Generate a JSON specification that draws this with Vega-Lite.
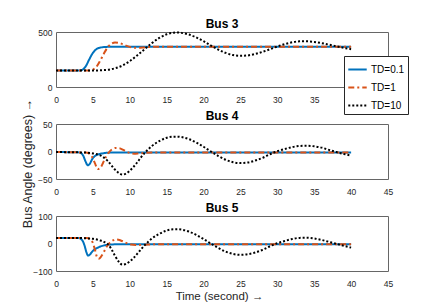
{
"$schema": "https://vega.github.io/schema/vega-lite/v6.json",
"padding": {"left": 20, "top": 17, "right": 5, "bottom": 2},
"bounds": "flush",
"spacing": 37,
"datasets": {
"bus3": [
{"s":"TD=0.1","t":0,"v":150},{"s":"TD=0.1","t":3.2,"v":150},{"s":"TD=0.1","t":3.6,"v":158},{"s":"TD=0.1","t":4,"v":185},{"s":"TD=0.1","t":4.5,"v":250},{"s":"TD=0.1","t":5,"v":310},{"s":"TD=0.1","t":5.5,"v":345},{"s":"TD=0.1","t":6,"v":358},{"s":"TD=0.1","t":6.5,"v":363},{"s":"TD=0.1","t":7,"v":365},{"s":"TD=0.1","t":20,"v":365},{"s":"TD=0.1","t":40,"v":365},
{"s":"TD=1","t":0,"v":150},{"s":"TD=1","t":4.6,"v":150},{"s":"TD=1","t":5,"v":158},{"s":"TD=1","t":5.5,"v":185},{"s":"TD=1","t":6,"v":240},{"s":"TD=1","t":6.5,"v":305},{"s":"TD=1","t":7,"v":360},{"s":"TD=1","t":7.5,"v":393},{"s":"TD=1","t":8,"v":405},{"s":"TD=1","t":8.5,"v":402},{"s":"TD=1","t":9,"v":390},{"s":"TD=1","t":9.5,"v":376},{"s":"TD=1","t":10,"v":365},{"s":"TD=1","t":10.5,"v":358},{"s":"TD=1","t":11,"v":356},{"s":"TD=1","t":12,"v":360},{"s":"TD=1","t":13,"v":365},{"s":"TD=1","t":20,"v":365},{"s":"TD=1","t":40,"v":365},
{"s":"TD=10","t":0,"v":150},{"s":"TD=10","t":5,"v":150},{"s":"TD=10","t":6,"v":152},{"s":"TD=10","t":7,"v":157},{"s":"TD=10","t":8,"v":170},{"s":"TD=10","t":9,"v":195},{"s":"TD=10","t":10,"v":235},{"s":"TD=10","t":11,"v":287},{"s":"TD=10","t":12,"v":343},{"s":"TD=10","t":13,"v":399},{"s":"TD=10","t":14,"v":446},{"s":"TD=10","t":15,"v":479},{"s":"TD=10","t":16,"v":494},{"s":"TD=10","t":16.5,"v":496},{"s":"TD=10","t":17,"v":492},{"s":"TD=10","t":18,"v":477},{"s":"TD=10","t":19,"v":451},{"s":"TD=10","t":20,"v":416},{"s":"TD=10","t":21,"v":377},{"s":"TD=10","t":22,"v":340},{"s":"TD=10","t":23,"v":310},{"s":"TD=10","t":24,"v":290},{"s":"TD=10","t":25,"v":283},{"s":"TD=10","t":26,"v":287},{"s":"TD=10","t":27,"v":300},{"s":"TD=10","t":28,"v":320},{"s":"TD=10","t":29,"v":343},{"s":"TD=10","t":30,"v":368},{"s":"TD=10","t":31,"v":390},{"s":"TD=10","t":32,"v":406},{"s":"TD=10","t":33,"v":415},{"s":"TD=10","t":34,"v":415},{"s":"TD=10","t":35,"v":410},{"s":"TD=10","t":36,"v":399},{"s":"TD=10","t":37,"v":385},{"s":"TD=10","t":38,"v":370},{"s":"TD=10","t":39,"v":356},{"s":"TD=10","t":40,"v":344}
],
"bus4": [
{"s":"TD=0.1","t":0,"v":-1},{"s":"TD=0.1","t":3,"v":-1.5},{"s":"TD=0.1","t":3.4,"v":-3},{"s":"TD=0.1","t":3.7,"v":-8},{"s":"TD=0.1","t":4,"v":-18},{"s":"TD=0.1","t":4.3,"v":-25},{"s":"TD=0.1","t":4.6,"v":-22},{"s":"TD=0.1","t":4.9,"v":-14},{"s":"TD=0.1","t":5.3,"v":-8},{"s":"TD=0.1","t":5.8,"v":-5},{"s":"TD=0.1","t":6.5,"v":-3},{"s":"TD=0.1","t":7.5,"v":-2},{"s":"TD=0.1","t":20,"v":-2},{"s":"TD=0.1","t":40,"v":-2},
{"s":"TD=1","t":0,"v":-1},{"s":"TD=1","t":4,"v":-2},{"s":"TD=1","t":4.5,"v":-4},{"s":"TD=1","t":4.9,"v":-10},{"s":"TD=1","t":5.3,"v":-22},{"s":"TD=1","t":5.65,"v":-32},{"s":"TD=1","t":6,"v":-30},{"s":"TD=1","t":6.4,"v":-20},{"s":"TD=1","t":6.8,"v":-9},{"s":"TD=1","t":7.2,"v":-1},{"s":"TD=1","t":7.6,"v":4},{"s":"TD=1","t":8.1,"v":6.5},{"s":"TD=1","t":8.6,"v":6},{"s":"TD=1","t":9.1,"v":3},{"s":"TD=1","t":9.6,"v":-0.5},{"s":"TD=1","t":10.1,"v":-3},{"s":"TD=1","t":10.6,"v":-4},{"s":"TD=1","t":11.2,"v":-3.5},{"s":"TD=1","t":12,"v":-2.5},{"s":"TD=1","t":13,"v":-2},{"s":"TD=1","t":20,"v":-2},{"s":"TD=1","t":40,"v":-2},
{"s":"TD=10","t":0,"v":-1},{"s":"TD=10","t":4,"v":-2},{"s":"TD=10","t":5,"v":-3.5},{"s":"TD=10","t":6,"v":-7},{"s":"TD=10","t":7,"v":-17},{"s":"TD=10","t":8,"v":-33},{"s":"TD=10","t":8.5,"v":-39},{"s":"TD=10","t":9,"v":-42},{"s":"TD=10","t":9.5,"v":-40},{"s":"TD=10","t":10,"v":-35},{"s":"TD=10","t":10.5,"v":-28},{"s":"TD=10","t":11,"v":-20},{"s":"TD=10","t":11.5,"v":-11},{"s":"TD=10","t":12,"v":-3},{"s":"TD=10","t":12.5,"v":4},{"s":"TD=10","t":13,"v":10},{"s":"TD=10","t":14,"v":19},{"s":"TD=10","t":15,"v":25},{"s":"TD=10","t":16,"v":27},{"s":"TD=10","t":16.5,"v":27},{"s":"TD=10","t":17,"v":26.2},{"s":"TD=10","t":18,"v":22.6},{"s":"TD=10","t":19,"v":16.5},{"s":"TD=10","t":20,"v":8.6},{"s":"TD=10","t":21,"v":0},{"s":"TD=10","t":22,"v":-8.2},{"s":"TD=10","t":23,"v":-15},{"s":"TD=10","t":24,"v":-19.5},{"s":"TD=10","t":25,"v":-21},{"s":"TD=10","t":26,"v":-20},{"s":"TD=10","t":27,"v":-16.5},{"s":"TD=10","t":28,"v":-11.5},{"s":"TD=10","t":29,"v":-5},{"s":"TD=10","t":30,"v":0.5},{"s":"TD=10","t":31,"v":4.5},{"s":"TD=10","t":32,"v":8},{"s":"TD=10","t":33,"v":10},{"s":"TD=10","t":34,"v":10.4},{"s":"TD=10","t":35,"v":9.4},{"s":"TD=10","t":36,"v":7},{"s":"TD=10","t":37,"v":3},{"s":"TD=10","t":38,"v":-1},{"s":"TD=10","t":39,"v":-4.5},{"s":"TD=10","t":40,"v":-7.5}
],
"bus5": [
{"s":"TD=0.1","t":0,"v":20},{"s":"TD=0.1","t":3,"v":20},{"s":"TD=0.1","t":3.3,"v":18},{"s":"TD=0.1","t":3.6,"v":10},{"s":"TD=0.1","t":3.9,"v":-10},{"s":"TD=0.1","t":4.1,"v":-30},{"s":"TD=0.1","t":4.35,"v":-44},{"s":"TD=0.1","t":4.6,"v":-40},{"s":"TD=0.1","t":4.9,"v":-30},{"s":"TD=0.1","t":5.2,"v":-22},{"s":"TD=0.1","t":5.6,"v":-16},{"s":"TD=0.1","t":6,"v":-11},{"s":"TD=0.1","t":6.5,"v":-7},{"s":"TD=0.1","t":7,"v":-5},{"s":"TD=0.1","t":8,"v":-3},{"s":"TD=0.1","t":9,"v":-2.5},{"s":"TD=0.1","t":20,"v":-2.5},{"s":"TD=0.1","t":40,"v":-2.5},
{"s":"TD=1","t":0,"v":20},{"s":"TD=1","t":4.2,"v":20},{"s":"TD=1","t":4.6,"v":16},{"s":"TD=1","t":5,"v":2},{"s":"TD=1","t":5.3,"v":-25},{"s":"TD=1","t":5.6,"v":-52},{"s":"TD=1","t":5.8,"v":-55},{"s":"TD=1","t":6.1,"v":-48},{"s":"TD=1","t":6.5,"v":-30},{"s":"TD=1","t":6.9,"v":-10},{"s":"TD=1","t":7.3,"v":3},{"s":"TD=1","t":7.8,"v":12},{"s":"TD=1","t":8.2,"v":15},{"s":"TD=1","t":8.7,"v":12},{"s":"TD=1","t":9.2,"v":6},{"s":"TD=1","t":9.7,"v":0},{"s":"TD=1","t":10.2,"v":-4},{"s":"TD=1","t":10.8,"v":-5.5},{"s":"TD=1","t":11.5,"v":-5},{"s":"TD=1","t":12.5,"v":-3.5},{"s":"TD=1","t":14,"v":-3},{"s":"TD=1","t":20,"v":-3},{"s":"TD=1","t":40,"v":-3},
{"s":"TD=10","t":0,"v":20},{"s":"TD=10","t":3,"v":20},{"s":"TD=10","t":4,"v":19},{"s":"TD=10","t":5,"v":17},{"s":"TD=10","t":6,"v":11},{"s":"TD=10","t":6.5,"v":6},{"s":"TD=10","t":7,"v":-2},{"s":"TD=10","t":7.5,"v":-20},{"s":"TD=10","t":8,"v":-45},{"s":"TD=10","t":8.5,"v":-66},{"s":"TD=10","t":9,"v":-77},{"s":"TD=10","t":9.5,"v":-74},{"s":"TD=10","t":10,"v":-65},{"s":"TD=10","t":10.5,"v":-53},{"s":"TD=10","t":11,"v":-38},{"s":"TD=10","t":11.5,"v":-22},{"s":"TD=10","t":12,"v":-7},{"s":"TD=10","t":12.5,"v":6},{"s":"TD=10","t":13,"v":18},{"s":"TD=10","t":14,"v":35},{"s":"TD=10","t":15,"v":47},{"s":"TD=10","t":16,"v":52},{"s":"TD=10","t":16.5,"v":52},{"s":"TD=10","t":17,"v":50.5},{"s":"TD=10","t":18,"v":43.5},{"s":"TD=10","t":19,"v":31.6},{"s":"TD=10","t":20,"v":16.3},{"s":"TD=10","t":21,"v":-0.4},{"s":"TD=10","t":22,"v":-16.3},{"s":"TD=10","t":23,"v":-29.4},{"s":"TD=10","t":24,"v":-38},{"s":"TD=10","t":25,"v":-41},{"s":"TD=10","t":26,"v":-39},{"s":"TD=10","t":27,"v":-33},{"s":"TD=10","t":28,"v":-23},{"s":"TD=10","t":29,"v":-10},{"s":"TD=10","t":30,"v":1},{"s":"TD=10","t":31,"v":9},{"s":"TD=10","t":32,"v":16.4},{"s":"TD=10","t":33,"v":20.4},{"s":"TD=10","t":34,"v":20.7},{"s":"TD=10","t":35,"v":18.2},{"s":"TD=10","t":36,"v":13},{"s":"TD=10","t":37,"v":6},{"s":"TD=10","t":38,"v":-1},{"s":"TD=10","t":39,"v":-8},{"s":"TD=10","t":40,"v":-15}
]
},
"vconcat": [
{
"title": "Bus 3",
"width": 332, "height": 55,
"data": {"name": "bus3"},
"mark": {"type": "line", "strokeWidth": 2, "interpolate": "monotone"},
"encoding": {
"x": {"field": "t", "type": "quantitative", "scale": {"domain": [0, 45], "nice": false}, "axis": {"values": [0,5,10,15,20,25,30,35,40,45], "title": null}},
"y": {"field": "v", "type": "quantitative", "scale": {"domain": [0, 500], "nice": false}, "axis": {"values": [0, 500], "title": "Bus Angle (degrees) →", "titleX": -25, "titleY": 131, "titleAngle": 270, "titleBaseline": "alphabetic", "titleAlign": "center", "titleFontSize": 12.5}},
"color": {"field": "s", "type": "nominal", "scale": {"domain": ["TD=0.1","TD=1","TD=10"], "range": ["#0072BD","#D95319","#000000"]}, "legend": {"title": null, "orient": "none", "legendX": 288, "legendY": 24}},
"strokeDash": {"field": "s", "type": "nominal", "scale": {"domain": ["TD=0.1","TD=1","TD=10"], "range": [[1,0],[6,3,2,3],[2,2]]}, "legend": {"title": null, "orient": "none", "legendX": 288, "legendY": 24}}
}
},
{
"title": "Bus 4",
"width": 332, "height": 55,
"data": {"name": "bus4"},
"mark": {"type": "line", "strokeWidth": 2, "interpolate": "monotone"},
"encoding": {
"x": {"field": "t", "type": "quantitative", "scale": {"domain": [0, 45], "nice": false}, "axis": {"values": [0,5,10,15,20,25,30,35,40,45], "title": null}},
"y": {"field": "v", "type": "quantitative", "scale": {"domain": [-50, 50], "nice": false}, "axis": {"values": [-50, 0, 50], "title": null}},
"color": {"field": "s", "type": "nominal", "scale": {"domain": ["TD=0.1","TD=1","TD=10"], "range": ["#0072BD","#D95319","#000000"]}, "legend": {"title": null, "orient": "none", "legendX": 288, "legendY": 24}},
"strokeDash": {"field": "s", "type": "nominal", "scale": {"domain": ["TD=0.1","TD=1","TD=10"], "range": [[1,0],[6,3,2,3],[2,2]]}, "legend": {"title": null, "orient": "none", "legendX": 288, "legendY": 24}}
}
},
{
"title": "Bus 5",
"width": 332, "height": 55,
"data": {"name": "bus5"},
"mark": {"type": "line", "strokeWidth": 2, "interpolate": "monotone"},
"encoding": {
"x": {"field": "t", "type": "quantitative", "scale": {"domain": [0, 45], "nice": false}, "axis": {"values": [0,5,10,15,20,25,30,35,40,45], "title": "Time (second) →", "titleX": 163, "titleY": 28, "titleBaseline": "alphabetic", "titleAlign": "center", "titleFontSize": 11.5}},
"y": {"field": "v", "type": "quantitative", "scale": {"domain": [-100, 100], "nice": false}, "axis": {"values": [-100, 0, 100], "title": null}},
"color": {"field": "s", "type": "nominal", "scale": {"domain": ["TD=0.1","TD=1","TD=10"], "range": ["#0072BD","#D95319","#000000"]}, "legend": {"title": null, "orient": "none", "legendX": 288, "legendY": 24}},
"strokeDash": {"field": "s", "type": "nominal", "scale": {"domain": ["TD=0.1","TD=1","TD=10"], "range": [[1,0],[6,3,2,3],[2,2]]}, "legend": {"title": null, "orient": "none", "legendX": 288, "legendY": 24}}
}
}
],
"config": {
"font": "Liberation Sans",
"view": {"stroke": "#666666", "strokeWidth": 1},
"axis": {"grid": false, "domain": false, "ticks": false, "labelFontSize": 8.5, "labelColor": "#262626", "titleColor": "#262626", "titleFontWeight": "normal", "labelFlush": false, "labelOverlap": false},
"axisX": {"labelPadding": 8},
"axisY": {"labelPadding": 4},
"title": {"fontSize": 12, "fontWeight": "bold", "color": "#000000", "offset": -2.5, "baseline": "alphabetic"},
"legend": {"symbolType": "stroke", "symbolSize": 340, "symbolStrokeWidth": 2, "labelFontSize": 10, "labelColor": "#000000", "padding": 3, "rowPadding": 2, "labelOffset": 3, "strokeColor": "#262626", "fillColor": "#ffffff", "cornerRadius": 0}
}
}
